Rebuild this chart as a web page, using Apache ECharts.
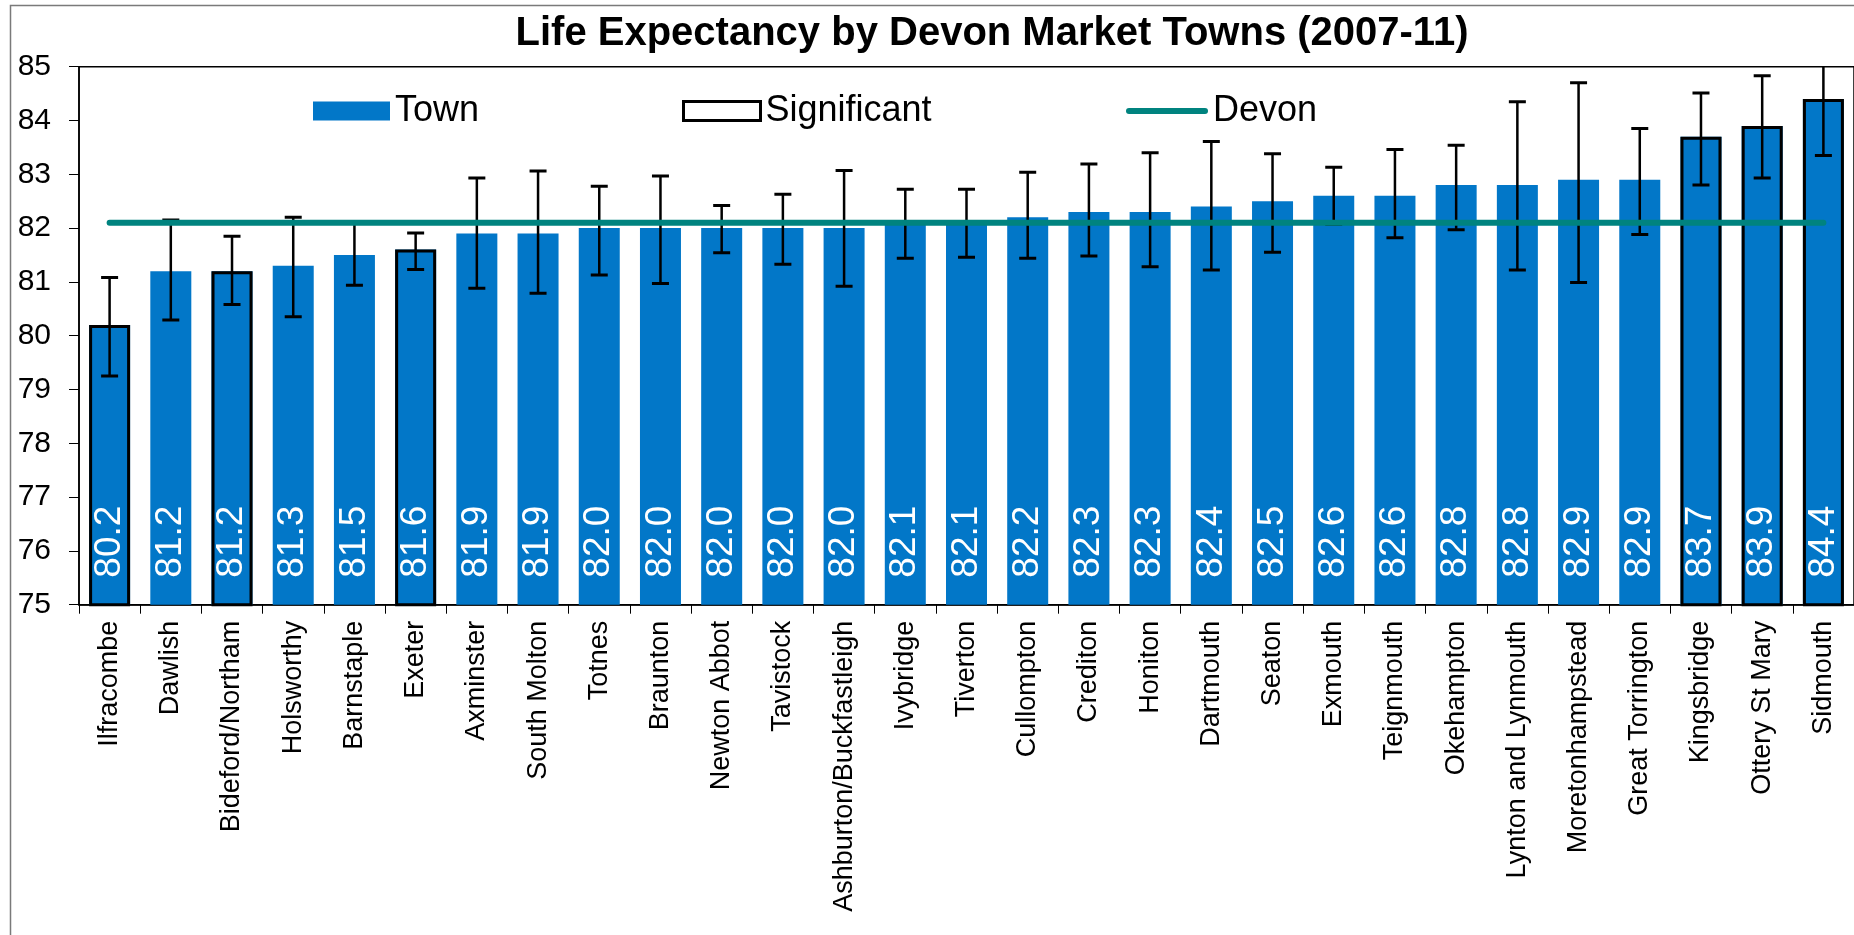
<!DOCTYPE html>
<html>
<head>
<meta charset="utf-8">
<title>Life Expectancy by Devon Market Towns (2007-11)</title>
<script src="https://cdn.jsdelivr.net/npm/echarts@6/dist/echarts.min.js"></script>
<style>
  html, body { margin: 0; padding: 0; background: #fff; overflow: hidden; }
  #chart { width: 1854px; height: 935px; }
</style>
</head>
<body>
<div id="chart"></div>
<script>
// Towns, ordered by life expectancy
const towns = [
  'Ilfracombe', 'Dawlish', 'Bideford/Northam', 'Holsworthy', 'Barnstaple', 'Exeter',
  'Axminster', 'South Molton', 'Totnes', 'Braunton', 'Newton Abbot', 'Tavistock',
  'Ashburton/Buckfastleigh', 'Ivybridge', 'Tiverton', 'Cullompton', 'Crediton', 'Honiton',
  'Dartmouth', 'Seaton', 'Exmouth', 'Teignmouth', 'Okehampton', 'Lynton and Lynmouth',
  'Moretonhampstead', 'Great Torrington', 'Kingsbridge', 'Ottery St Mary', 'Sidmouth'
];

// Life expectancy at birth (years)
const lifeExpectancy = [
  80.2, 81.2, 81.2, 81.3, 81.5, 81.6,
  81.9, 81.9, 82.0, 82.0, 82.0, 82.0,
  82.0, 82.1, 82.1, 82.2, 82.3, 82.3,
  82.4, 82.5, 82.6, 82.6, 82.8, 82.8,
  82.9, 82.9, 83.7, 83.9, 84.4
];

// 95% confidence interval bounds
const lowerCI = [
  79.25, 80.29, 80.58, 80.35, 80.94, 81.23,
  80.88, 80.79, 81.13, 80.97, 81.54, 81.33,
  80.92, 81.44, 81.46, 81.44, 81.48, 81.28,
  81.22, 81.55, 82.07, 81.82, 81.97, 81.22,
  80.99, 81.88, 82.80, 82.93, 83.35
];
const upperCI = [
  81.08, 82.15, 81.85, 82.20, 82.10, 81.91,
  82.93, 83.06, 82.78, 82.97, 82.42, 82.63,
  83.07, 82.72, 82.72, 83.04, 83.19, 83.40,
  83.61, 83.38, 83.13, 83.46, 83.54, 84.35,
  84.70, 83.85, 84.51, 84.83, 85.45
];

// 1 = significantly different from the Devon average
const significant = [
  1, 0, 1, 0, 0, 1,
  0, 0, 0, 0, 0, 0,
  0, 0, 0, 0, 0, 0,
  0, 0, 0, 0, 0, 0,
  0, 0, 1, 1, 1
];

const devonAverage = 82.1;

const yMin = 75, yMax = 85, yStep = 1;

const FONT = "'Liberation Sans', Arial, sans-serif";
const BLUE = '#0277C8';
const TEAL = '#00837F';

const chart = echarts.init(document.getElementById('chart'), null, { renderer: 'canvas' });

const legendText = { fontFamily: FONT, fontSize: 36, color: '#000' };

const option = {
  backgroundColor: '#fff',
  animation: false,
  textStyle: { fontFamily: FONT },
  title: {
    text: 'Life Expectancy by Devon Market Towns (2007-11)',
    left: 987,
    textAlign: 'center',
    top: 9,
    textStyle: { fontFamily: FONT, fontSize: 40, fontWeight: 'bold', color: '#000' }
  },
  graphic: [{
    type: 'rect',
    silent: true,
    z: -10,
    shape: { x: 10.5, y: 5.5, width: 2000, height: 2000 },
    style: { fill: 'none', stroke: '#7a7a7a', lineWidth: 1.5 }
  }],
  legend: [
    {
      data: ['Town'], left: 308, top: 88, itemWidth: 77, itemHeight: 19, icon: 'rect',
      textStyle: legendText, selectedMode: false
    },
    {
      data: ['Significant'], left: 677, top: 88, itemWidth: 77, itemHeight: 19, icon: 'rect',
      itemStyle: { color: '#fff', borderColor: '#000', borderWidth: 3 },
      textStyle: legendText, selectedMode: false
    },
    {
      data: ['Devon'], left: 1121, top: 88, itemWidth: 82, itemHeight: 7,
      icon: 'path://M3,0 L79,0 A3,3 0 0 1 79,6 L3,6 A3,3 0 0 1 3,0 Z',
      textStyle: legendText, selectedMode: false
    }
  ],
  grid: {
    left: 79, top: 66.7, right: -8.5, bottom: 330.3,
    show: true, borderColor: '#000', borderWidth: 1.5, backgroundColor: 'transparent'
  },
  xAxis: {
    type: 'category',
    data: towns,
    boundaryGap: true,
    axisLine: { show: true, lineStyle: { color: '#000', width: 1.5 } },
    axisTick: { show: true, interval: 0, length: 9, lineStyle: { color: '#000', width: 1 } },
    axisLabel: {
      interval: 0, rotate: 90, margin: 16,
      fontFamily: FONT, fontSize: 27, color: '#000'
    },
    splitLine: { show: false }
  },
  yAxis: {
    type: 'value',
    min: yMin, max: yMax, interval: yStep,
    axisLine: { show: true, lineStyle: { color: '#000', width: 1.5 } },
    axisTick: { show: true, length: 10, lineStyle: { color: '#000', width: 1 } },
    axisLabel: { margin: 28, fontFamily: FONT, fontSize: 30, color: '#000' },
    splitLine: { show: false }
  },
  series: [
    {
      name: 'Town',
      type: 'bar',
      z: 2,
      data: lifeExpectancy,
      barWidth: 41,
      barGap: '-100%',
      itemStyle: { color: BLUE },
      label: {
        show: true,
        position: 'insideBottom',
        rotate: 90,
        align: 'left',
        verticalAlign: 'middle',
        distance: 27,
        fontFamily: FONT,
        fontSize: 37,
        color: '#fff',
        formatter: p => p.value.toFixed(1)
      }
    },
    {
      name: 'Significant',
      type: 'bar',
      z: 3,
      data: lifeExpectancy.map((v, i) => significant[i] ? v : yMin),
      barWidth: 41,
      barGap: '-100%',
      itemStyle: { color: 'rgba(0,0,0,0)', borderColor: '#000', borderWidth: 3 },
      silent: true
    },
    {
      name: 'CI',
      type: 'custom',
      z: 5,
      clip: true,
      data: towns.map((t, i) => [i, lowerCI[i], upperCI[i]]),
      encode: { x: 0, y: [1, 2] },
      renderItem: function (params, api) {
        const idx = api.value(0);
        const lo = api.coord([idx, api.value(1)]);
        const hi = api.coord([idx, api.value(2)]);
        const half = 8.5;
        const stem = { stroke: '#000', lineWidth: 2.5 };
        const cap = { stroke: '#000', lineWidth: 3 };
        return {
          type: 'group',
          children: [
            { type: 'line', shape: { x1: lo[0], y1: lo[1], x2: hi[0], y2: hi[1] }, style: stem },
            { type: 'line', shape: { x1: lo[0] - half, y1: lo[1], x2: lo[0] + half, y2: lo[1] }, style: cap },
            { type: 'line', shape: { x1: hi[0] - half, y1: hi[1], x2: hi[0] + half, y2: hi[1] }, style: cap }
          ]
        };
      }
    },
    {
      name: 'Devon',
      type: 'line',
      z: 6,
      data: towns.map(() => devonAverage),
      symbol: 'none',
      showSymbol: false,
      lineStyle: { color: TEAL, width: 6, cap: 'round' },
      itemStyle: { color: TEAL },
      silent: true
    }
  ]
};

chart.setOption(option);
</script>
</body>
</html>
